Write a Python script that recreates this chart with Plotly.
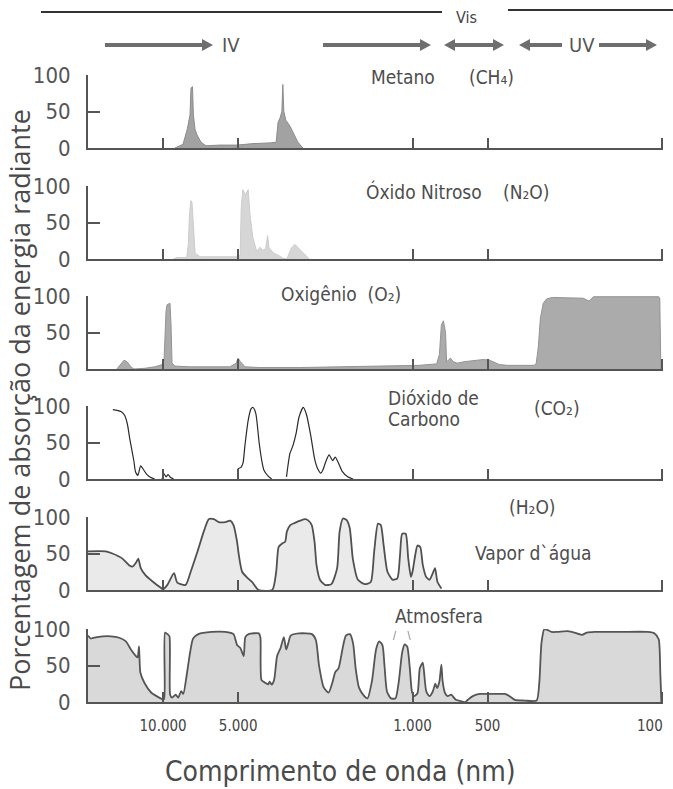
import numpy as np
import plotly.graph_objects as go

# ---------------- data (wavelength in nm, absorption in %) ----------------
metano_nm = [8960, 8320, 8010, 7800, 7730, 7620, 7560, 7440, 7310, 7050, 6730, 5920, 5050, 4360,
             3720, 3520, 3460, 3390, 3340, 3310, 3280, 3220, 3100, 2990, 2880, 2750]
metano_pct = [0, 5, 25, 45, 82, 84, 45, 25, 18, 8, 3, 4, 4, 6,
              7, 8, 35, 42, 50, 87, 50, 38, 30, 18, 8, 0]

n2o_nm = [9090, 8820, 8040, 7920, 7840, 7740, 7660, 7560, 7440, 7100, 5060, 4910, 4860, 4790, 4680,
          4560, 4480, 4370, 4210, 4090, 3980, 3880, 3810, 3760, 3600, 3450, 3300, 3190, 3120, 3060,
          2960, 2820, 2700, 2590]
n2o_pct = [0, 2, 2, 20, 60, 80, 78, 40, 8, 3, 3, 5, 70, 95, 88,
           95, 60, 30, 10, 16, 12, 14, 32, 15, 8, 5, 1, 0, 8, 15,
           20, 12, 6, 0]

o2_nm = [15320, 14760, 14350, 13950, 13460, 13090, 11830, 10790, 10090, 9910, 9730, 9640, 9380, 9290,
         9210, 8960, 7800, 5400, 5090, 5000, 4900, 4690, 4085, 2830, 1790, 1130, 938, 800, 780, 766,
         752, 737, 730, 717, 705, 686, 661, 620, 565, 520, 491, 469, 448, 416, 325, 319, 313, 307,
         299, 290, 275, 207, 196, 188, 103, 102, 101]
o2_pct = [0, 6, 12, 10, 3, 0, 1, 3, 6, 12, 80, 88, 90, 60,
          8, 4, 3, 3, 8, 15, 10, 3, 2, 2, 3, 4, 5, 7, 20, 60,
          66, 50, 10, 12, 15, 10, 8, 10, 12, 13, 12, 9, 6, 5, 5, 8, 30, 70,
          90, 96, 98, 97, 93, 99, 99, 97, 0]

co2_nm = [15900, 15300, 14700, 14250, 13900, 13600, 13100, 12900, 12620, 12300, 11940, 11600, 11200, 10800,
          None,
          10100, 9910, 9740, 9550, 9320, 9070,
          None,
          5020, 5000, 4870, 4780, 4700, 4560, 4440, 4360, 4250, 4120, 4020, 3940, 3790, 3670,
          None,
          3200, 3100, 3020, 2930, 2850, 2740, 2660, 2560, 2470, 2400, 2330, 2290, 2220, 2160, 2090,
          2040, 1970, 1910, 1820, 1730]
co2_pct = [95, 94, 92, 87, 75, 55, 25, 10, 5, 18, 12, 6, 2, 0,
           None,
           0, 7, 3, 6, 2, 0,
           None,
           0, 14, 16, 22, 45, 80, 96, 98, 90, 50, 25, 12, 4, 0,
           None,
           3, 35, 45, 62, 85, 98, 88, 60, 28, 14, 8, 12, 25, 33, 25,
           30, 20, 10, 3, 0]

h2o_nm = [20000, 16990, 15960, 14550, 13690, 13270, 12810, 12570, 12290, 11750, 11050, 10210, 10000,
          9610, 9040, 8770, 8120, 7750, 7290, 6870, 6560, 6260, 5990, 5620, 5380, 5220, 5050, 4970,
          4820, 4600, 4400, 4140, 3650, 3520, 3440, 3320, 3240, 3190, 3090, 2960, 2820, 2690, 2615,
          2535, 2470, 2425, 2350, 2245, 2115, 2005, 1960, 1900, 1840, 1785, 1735, 1655, 1555, 1470,
          1425, 1375, 1340, 1305, 1260, 1200, 1150, 1122, 1100, 1065, 1040, 1015, 1000, 975, 955,
          931, 909, 882, 855, 829, 812, 794, 765]
h2o_pct = [53, 53, 50, 43, 34, 32, 38, 43, 30, 20, 12, 3, 1,
           7, 23, 10, 7, 25, 52, 80, 97, 97, 93, 93, 95, 89, 66, 48,
           25, 17, 11, 0, 0, 25, 59, 64, 66, 80, 89, 92, 95, 97, 95,
           89, 66, 34, 14, 7, 8, 30, 80, 98, 96, 85, 43, 14, 8, 11,
           52, 91, 89, 61, 25, 14, 16, 48, 77, 77, 43, 18, 25, 48, 61,
           59, 34, 18, 14, 23, 30, 11, 2]

atm_nm = [20000, 19500, 18400, 16200, 14990, 14100, 13460, 12850, 12650, 12490, 12330, 11870, 11170,
          10500, 10090, 9910, 9820, 9600, 9430, 9370, 9200, 8900, 8700, 8460, 8300, 8040, 7800, 7580,
          7220, 6390, 5630, 5220, 5050, 4900, 4750, 4680, 4540, 4130, 4070, 4030, 3880, 3790, 3740,
          3670, 3590, 3490, 3380, 3280, 3210, 3150, 3080, 2850, 2530, 2440, 2370, 2270, 2170, 2090,
          2040, 1980, 1910, 1850, 1780, 1730, 1690, 1640, 1570, 1515, 1455, 1400, 1360, 1320, 1295,
          1265, 1220, 1170, 1135, 1100, 1075, 1050, 1025, 1005, 985, 955, 935, 910, 900, 880, 855,
          830, 810, 797, 780, 766, 757, 740, 723, 700, 670, 635, 615, 600, 573, 537, 483, 426, 408,
          389, 356, 318, 310, 304, 296, 289, 277, 263, 238, 224, 209, 200, 186, 146, 114, 107, 103,
          101.5, 100.5]
atm_pct = [91, 87, 89, 90, 88, 83, 72, 63, 61, 76, 40, 26, 13,
           7, 4, 4, 95, 93, 90, 10, 6, 10, 6, 15, 11, 37, 67, 87,
           93, 96, 96, 93, 78, 74, 63, 89, 93, 94, 88, 30, 26, 24, 28,
           24, 30, 63, 74, 89, 72, 80, 91, 94, 93, 85, 50, 20, 13, 28,
           41, 46, 72, 91, 93, 80, 46, 20, 9, 5, 28, 72, 83, 78, 50,
           14, 5, 5, 28, 68, 79, 76, 46, 14, 8, 12, 46, 54, 43, 14, 8,
           14, 25, 19, 28, 51, 28, 12, 8, 10, 3, 1, 0, 3, 8, 11, 11, 11, 8,
           3, 2, 2, 28, 81, 100, 99, 96, 96, 97, 95, 92, 95, 96, 96, 96, 94, 86,
           40, 0]

tick_vals = [10000, 5000, 1000, 500, 100]
tick_text = ["10.000", "5.000", "1.000", "500", ""]   # "100" is placed at its tick below
edge_tick_val = 100
edge_tick_text = "100"
y_vals = [0, 50, 100]
y_text = ["0", "50", "100"]

# ---------------- layout helpers ----------------
W, H = 673, 789
ML, MR = 88, 10
PW = W - ML - MR
COND = "DejaVu Sans Condensed, DejaVu Sans, sans-serif"
GREY = "#4d4d4d"


def fx(p):
    return (p - ML) / PW


def fy(p):
    return 1 - p / H


zero_px = [148, 259, 369, 479, 590, 702]
panel_h = 73

panels = [
    dict(x=metano_nm, y=metano_pct, fill="tozeroy", fillcolor="#a2a2a2", line=dict(color="#8c8c8c", width=1), shape="linear"),
    dict(x=n2o_nm, y=n2o_pct, fill="tozeroy", fillcolor="#d6d6d6", line=dict(color="#cccccc", width=1), shape="linear"),
    dict(x=o2_nm, y=o2_pct, fill="tozeroy", fillcolor="#ababab", line=dict(color="#939393", width=1), shape="linear"),
    dict(x=co2_nm, y=co2_pct, fill="none", fillcolor=None, line=dict(color="#2a2a2a", width=1.2), shape="spline"),
    dict(x=h2o_nm, y=h2o_pct, fill="tozeroy", fillcolor="#eaeaea", line=dict(color="#505050", width=1.8), shape="spline"),
    dict(x=atm_nm, y=atm_pct, fill="tozeroy", fillcolor="#d9d9d9", line=dict(color="#555555", width=1.8), shape="spline"),
]

fig = go.Figure()
layout = dict(
    width=W, height=H,
    margin=dict(l=ML, r=MR, t=0, b=0, autoexpand=False),
    paper_bgcolor="white", plot_bgcolor="rgba(0,0,0,0)",
    showlegend=False,
)

for i, p in enumerate(panels):
    n = "" if i == 0 else str(i + 1)
    line = dict(p["line"])
    line["shape"] = p["shape"]
    if p["shape"] == "spline":
        line["smoothing"] = 0.6
    tr = dict(x=p["x"], y=p["y"], xaxis="x" + n, yaxis="y" + n, mode="lines",
              line=line, fill=p["fill"], connectgaps=False, hoverinfo="skip")
    if p["fillcolor"]:
        tr["fillcolor"] = p["fillcolor"]
    fig.add_trace(go.Scatter(**tr))

    z = zero_px[i]
    layout["xaxis" + n] = dict(
        type="log", range=[np.log10(20000), np.log10(99)], domain=[0, 1], anchor="y" + n,
        showline=True, linecolor="#555", linewidth=2, mirror=False,
        ticks="inside", ticklen=10, tickwidth=2, tickcolor="#555",
        tickvals=tick_vals, ticktext=tick_text,
        showticklabels=(i == len(panels) - 1),
        tickfont=dict(family=COND, size=15, color="#444"),
        ticklabelstandoff=9,
        showgrid=False, zeroline=False, fixedrange=True,
    )
    layout["yaxis" + n] = dict(
        range=[0, 100], domain=[fy(z), fy(z - panel_h)], anchor="x" + n,
        showline=True, linecolor="#555", linewidth=2,
        ticks="inside", ticklen=12, tickwidth=2, tickcolor="#555",
        tickvals=y_vals, ticktext=y_text,
        tickfont=dict(family=COND, size=22, color="#555"),
        ticklabelstandoff=11,
        showgrid=False, zeroline=False, fixedrange=True,
    )

fig.update_layout(**layout)

# ---------------- text ----------------
ann = []


def text(s, px, py, size=19, anchor="center", color=GREY, family=COND, angle=0):
    ann.append(dict(text=s, x=fx(px), y=fy(py), xref="paper", yref="paper",
                    xanchor=anchor, yanchor="middle", showarrow=False, textangle=angle,
                    font=dict(family=family, size=size, color=color)))


text("Metano", 403, 77)
text("(CH₄)", 491, 77)
text("Óxido Nitroso", 424, 192)
text("(N₂O)", 526, 192)
text("Oxigênio  (O₂)", 341, 294)
text("Dióxido de", 386, 398, anchor="left")
text("Carbono", 386, 419, anchor="left")
text("(CO₂)", 557, 408)
text("(H₂O)", 532, 507)
text("Vapor d`água", 533, 553)
text("Atmosfera", 439, 616)
text("/    \\", 402, 635, size=10, color="#777")
text("Vis", 466, 18, size=16, color="#444")
text("IV", 231, 45, size=20, color="#555")
text("UV", 582, 45, size=20, color="#555")
text("Comprimento de onda (nm)", 340, 771, size=28, color="#4a4a4a")
text("Porcentagem de absorção da energia radiante", 19, 400, size=27,
     color="#4a4a4a", family="Open Sans, DejaVu Sans, sans-serif", angle=-90)

# last tick label of the wavelength axis, right-aligned at its tick so it stays inside the page
ann.append(dict(text=edge_tick_text, x=np.log10(edge_tick_val), xref="x6",
                y=fy(726), yref="paper", xanchor="right", yanchor="middle", xshift=3,
                showarrow=False, font=dict(family=COND, size=15, color="#444")))

fig.update_layout(annotations=ann)

# ---------------- top decorations: spectral-range lines and arrows ----------------
ARROW_C = "#6e6e6e"


def head(tip, direction, py, length=11, half=6):
    base = tip - direction * length
    return (f"M {fx(tip)} {fy(py)} L {fx(base)} {fy(py - half)} "
            f"L {fx(base)} {fy(py + half)} Z")


def arrow(x_from, x_to, py, both=False):
    d = 1 if x_to > x_from else -1
    x0 = x_from + (d * 9 if both else 0)
    x1 = x_to - d * 9
    fig.add_shape(type="line", xref="paper", yref="paper", x0=fx(x0), x1=fx(x1),
                  y0=fy(py), y1=fy(py), line=dict(color=ARROW_C, width=4))
    fig.add_shape(type="path", xref="paper", yref="paper", path=head(x_to, d, py),
                  fillcolor=ARROW_C, line=dict(color=ARROW_C, width=0))
    if both:
        fig.add_shape(type="path", xref="paper", yref="paper", path=head(x_from, -d, py),
                      fillcolor=ARROW_C, line=dict(color=ARROW_C, width=0))


arrow(105, 213, 45)
arrow(323, 431, 45)
arrow(444, 504, 45, both=True)
arrow(562, 519, 45)
arrow(599, 657, 45)

fig.add_shape(type="line", xref="paper", yref="paper", x0=fx(41), x1=fx(442), y0=fy(12), y1=fy(12),
              line=dict(color="#333", width=2))
fig.add_shape(type="line", xref="paper", yref="paper", x0=fx(508), x1=fx(673), y0=fy(10), y1=fy(10),
              line=dict(color="#333", width=2))

fig.write_html("out.html", config={"displayModeBar": False},
               post_script="document.body.style.margin='0';")
